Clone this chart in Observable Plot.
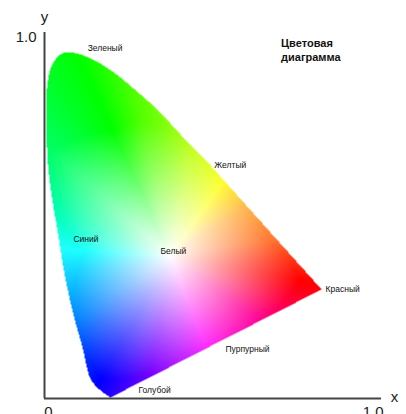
<!DOCTYPE html>
<html><head><meta charset="utf-8">
<script src="https://cdn.jsdelivr.net/npm/d3@7"></script>
<script src="https://cdn.jsdelivr.net/npm/@observablehq/plot@0.6"></script>
<style>html,body{margin:0;padding:0;background:#fff}svg{display:block}</style>
</head><body><div id="c"></div>
<script>
const boundaryX=[.196,.175,.157,.136,.113,.083,.056,.042,.027,.012,.006,.006,.015,.030,.053,.080,.110,.166,.217,.264,.315,.365,.412,.472,.822];
const boundaryY=[.003,.016,.030,.055,.139,.240,.358,.440,.522,.623,.724,.828,.891,.923,.943,.945,.939,.915,.883,.847,.806,.760,.713,.658,.298];
const whitePoint=[.374,.388];
const anchorX=[.202,.018,.033,.122,.092,.166,.315,.478,.641,.760,.671,.597,.528,.433,.285];
const anchorY=[.732,.678,.527,.404,.213,.055,.066,.145,.213,.322,.432,.522,.590,.691,.760];
const anchorColor=["#00ff00","#00ff64","#00ffaa","#20ffff","#0082ff","#0000ff","#7800ff","#ff30ff","#ff0096","#ff0000","#ff7832","#ffb850","#ffff30","#c0ff20","#50ff00"];
const labelText=["Зеленый","Желтый","Синий","Белый","Красный","Пурпурный","Голубой"];
const labelX=[.128,.504,.086,.344,.834,.537,.279];
const labelY=[.956,.637,.434,.402,.298,.134,.022];
const titleLines=["Цветовая","диаграмма"];
const titleX=[.702,.702];
const titleY=[.970,.932];
const xTicks=["0","1.0"];
const xTickPos=[.012,.975];
const yTicks=["1.0"];

const k=1000;
const pts=boundaryX.map((x,i)=>[x*k,boundaryY[i]*k]);
const outline=new Path2D(d3.line().curve(d3.curveCatmullRom)(pts.slice(0,-1))+"L"+pts[pts.length-1].join(",")+"Z");
const ctx=document.createElement("canvas").getContext("2d");
const anchors=anchorX.map((x,i)=>{
  const dx=x-whitePoint[0],dy=anchorY[i]-whitePoint[1];
  return {a:Math.atan2(dy,dx),r:Math.hypot(dx,dy),c:d3.rgb(anchorColor[i])};
}).sort((p,q)=>p.a-q.a);
function colorAt(x,y){
  const dx=x-whitePoint[0],dy=y-whitePoint[1];
  const a=Math.atan2(dy,dx),r=Math.hypot(dx,dy);
  let i=anchors.findIndex(p=>p.a>a);
  if(i<0)i=0;
  const q=anchors[i],p=anchors[(i-1+anchors.length)%anchors.length];
  let span=q.a-p.a;if(span<0)span+=2*Math.PI;
  let d=a-p.a;if(d<0)d+=2*Math.PI;
  const t=d/span;
  const ra=p.r+(q.r-p.r)*t;
  const s=Math.min(1,r/ra);
  const mix=(u,v)=>{const c=u+(v-u)*t;return 255+(c-255)*s;};
  return `rgb(${mix(p.c.r,q.c.r)|0},${mix(p.c.g,q.c.g)|0},${mix(p.c.b,q.c.b)|0})`;
}
const chart=Plot.plot({
  width:406,height:414,marginLeft:44,marginRight:25,marginTop:32,marginBottom:16,
  x:{domain:[0,1],axis:null},
  y:{domain:[0,1],axis:null},
  color:{type:"identity"},
  style:{background:"#fff",fontFamily:"Liberation Sans, Arial, sans-serif"},
  marks:[
    Plot.raster({x1:0,x2:1,y1:0,y2:1,
      fill:colorAt,
      fillOpacity:(x,y)=>ctx.isPointInPath(outline,x*k,y*k)?1:0,
      imageFilter:"blur(0.6px)"}),
    Plot.ruleX([0],{y1:0,y2:1,stroke:"#444",strokeWidth:2}),
    Plot.ruleY([0],{x1:0,x2:1,stroke:"#444",strokeWidth:2}),
    Plot.text(labelText,{x:(d,i)=>labelX[i],y:(d,i)=>labelY[i],text:d=>d,textAnchor:"start",fontSize:8.5,fill:"#111"}),
    Plot.text(titleLines,{x:(d,i)=>titleX[i],y:(d,i)=>titleY[i],text:d=>d,textAnchor:"start",fontSize:11,fontWeight:"bold",fill:"#111"}),
    Plot.text(yTicks,{x:0,y:1,text:d=>d,textAnchor:"end",dx:-8,dy:5,fontSize:15,fill:"#222"}),
    Plot.text(xTicks,{x:(d,i)=>xTickPos[i],y:0,text:d=>d,dy:14,fontSize:15,fill:"#222"}),
    Plot.text(["y"],{x:0,y:1,text:d=>d,dy:-15,fontSize:15,fill:"#222"}),
    Plot.text(["x"],{x:1,y:0,text:d=>d,dx:13,dy:-1,fontSize:15,fill:"#222"})
  ]
});
document.getElementById("c").append(chart);
</script></body></html>
